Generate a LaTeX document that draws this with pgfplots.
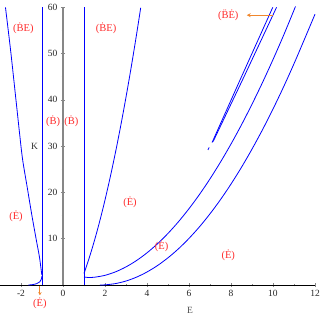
\documentclass[border=0pt]{standalone}
\usepackage{pgfplots}
\pgfplotsset{compat=1.18}
\usepackage{fontspec}
\setmainfont{Liberation Serif}
\usetikzlibrary{arrows.meta}
\definecolor{lblred}{RGB}{255,45,45}
\definecolor{arrorange}{RGB}{240,135,45}
\definecolor{axgray}{RGB}{135,135,135}
\begin{document}
\begin{tikzpicture}
\begin{axis}[
  scale only axis, width=315pt, height=277.7pt,
  xmin=-3, xmax=12, ymin=0, ymax=60,
  axis lines=middle,
  hide obscured x ticks=false,
  hide obscured y ticks=false,
  clip=false,
  x axis line style={-, black, line width=0.8pt},
  y axis line style={-, axgray, line width=1.6pt},
  xtick={-2,0,...,12}, minor xtick={-1,1,...,11},
  ytick={10,20,...,60}, minor ytick={5,15,...,55},
  tick style={axgray, line width=0.5pt},
  major tick length=4pt, minor tick length=2.5pt,
  tick label style={font=\fontsize{9.5}{10}\selectfont, text=black!85},
  /pgf/number format/assume math mode=true,
  every axis plot/.append style={blue, line width=0.8pt, no markers},
]
% left curve
\addplot[blue, smooth] coordinates {(-2.74,60) (-2.49,50.5) (-2.24,40) (-2.05,32) (-1.92,27) (-1.70,21) (-1.48,15) (-1.27,9.7) (-1.12,6) (-1.01,2.2)};
% small curve near bottom left
\addplot[blue, smooth] coordinates {(-1.65,0) (-1.45,0.08) (-1.25,0.3) (-1.1,0.7) (-1.03,1.3) (-1.0,2.0)};
% vertical lines
\addplot[blue] coordinates {(-1,0) (-1,60)};
\addplot[blue] coordinates {(1,0) (1,60)};
% steep curve from (1,2.5)
\addplot[blue, smooth] coordinates {(1,2.5) (1.2,5.17) (1.4,8.09) (1.6,11.26) (1.8,14.69) (2.0,18.37) (2.25,23.33) (2.5,28.68) (2.75,34.43) (3.0,40.58) (3.25,47.12) (3.5,54.06) (3.7,59.9)};
% curve A
\addplot[blue, smooth] coordinates {(1,1.75) (1.2,1.62) (1.5,1.68) (2,2.09) (2.5,2.84) (3,3.91) (3.5,5.28) (4,6.95) (4.5,8.91) (5,11.15) (5.5,13.68) (6,16.49) (6.5,19.57) (7,22.93) (7.5,26.56) (8,30.46) (8.5,34.62) (9,39.06) (9.5,43.75) (10,48.70) (10.5,53.9) (11,59.39) (11.05,60)};
% curve B
\addplot[blue, smooth] coordinates {(1.76,0) (2,0.032) (2.5,0.307) (3,0.861) (3.5,1.695) (4,2.81) (4.5,4.20) (5,5.88) (5.5,7.83) (6,10.07) (6.5,12.58) (7,15.38) (7.5,18.45) (8,21.81) (8.5,25.44) (9,29.36) (9.5,33.55) (10,38.02) (10.5,42.77) (11,47.81) (11.5,53.12) (12,58.5)};
% short pair
\addplot[blue] coordinates {(6.9,29.2) (6.96,29.7)};
\addplot[blue] coordinates {(7.1,30.8) (8.5,45) (9.99,60)};
\addplot[blue] coordinates {(7.15,31.0) (8.62,45) (10.17,60)};
% labels
\begin{scope}[every node/.style={text=lblred, font=\fontsize{10.5}{11}\selectfont, inner sep=0pt}]
\node at (axis cs:-1.89,55.4) {(\.BE)};
\node at (axis cs:2.05,55.5) {(\.BE)};
\node at (axis cs:-0.47,35.3) {(\.B)};
\node at (axis cs:0.40,35.3) {(\.B)};
\node at (axis cs:-2.24,14.9) {(\.E)};
\node at (axis cs:3.19,17.9) {(\.E)};
\node at (axis cs:4.70,8.3) {(\.E)};
\node at (axis cs:7.87,6.5) {(\.E)};
\node at (axis cs:-1.1,-3.85) {(\.E)};
\node at (axis cs:7.87,58.3) {(\"B\.E)};
\end{scope}
\draw[arrorange, line width=1.3pt, -{Stealth[length=4pt,width=4pt]}] (axis cs:9.98,58.3) -- (axis cs:8.75,58.3);
\draw[arrorange, line width=1.1pt, -{Stealth[length=3pt,width=3.5pt]}] (axis cs:-1.1,-0.2) -- (axis cs:-1.1,-2.2);
\node[font=\fontsize{9.5}{10}\selectfont, text=black!80] at (axis cs:-1.36,29.9) {K};
\node[font=\fontsize{9.5}{10}\selectfont, text=black!70] at (axis cs:6.05,-5.4) {E};
\coordinate (bl) at (axis cs:-3,0);
\coordinate (tr) at (axis cs:12,60);
\end{axis}
\pgfresetboundingbox
\path ([yshift=-34pt]bl) rectangle ([xshift=12pt,yshift=7.3pt]tr);
\end{tikzpicture}
\end{document}
